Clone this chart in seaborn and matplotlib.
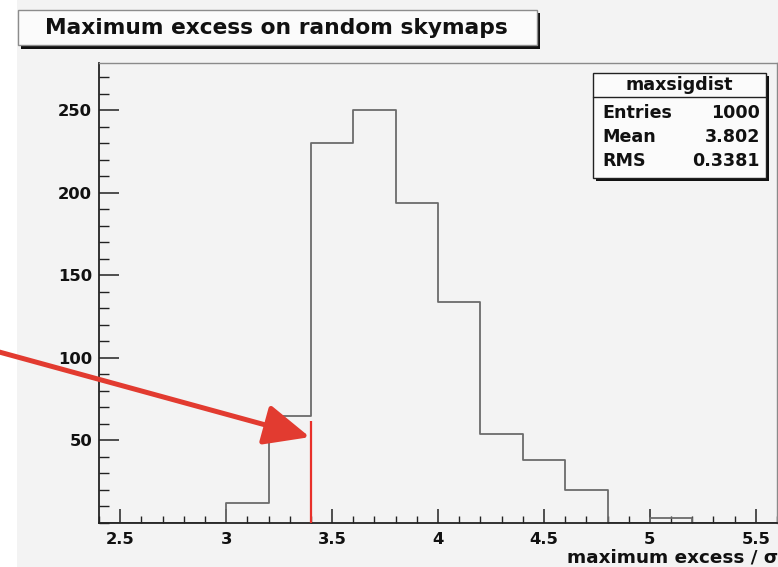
import numpy as np
import pandas as pd
import matplotlib
matplotlib.use("Agg")
import matplotlib.pyplot as plt
from matplotlib.patches import Rectangle
from matplotlib.lines import Line2D
from matplotlib.ticker import MultipleLocator
import seaborn as sns

# Histogram of the maximum excess found on random skymaps
bin_edges = [2.4, 2.6, 2.8, 3.0, 3.2, 3.4, 3.6, 3.8, 4.0, 4.2, 4.4, 4.6, 4.8, 5.0, 5.2, 5.4, 5.6]
bin_counts = [0, 0, 0, 12, 65, 230, 250, 194, 134, 54, 38, 20, 0, 3, 0, 0]
observed_excess = 3.4
observed_marker_height = 62

title_text = "Maximum excess on random skymaps"
stats_name = "maxsigdist"
stats_rows = [("Entries", "1000"), ("Mean", "3.802"), ("RMS", "0.3381")]
x_label = "maximum excess / \u03c3"
x_ticks = [2.5, 3, 3.5, 4, 4.5, 5, 5.5]
x_ticklabels = ["2.5", "3", "3.5", "4", "4.5", "5", "5.5"]
y_ticks = [50, 100, 150, 200, 250]

centers = [(a + b) / 2 for a, b in zip(bin_edges[:-1], bin_edges[1:])]
df = pd.DataFrame({"excess": centers, "count": bin_counts})

sns.set_theme(style="white")
plt.rcParams["font.family"] = ["DejaVu Sans"]

W, H = 778, 567
BG = "#f3f3f3"
fig = plt.figure(figsize=(W / 100, H / 100), dpi=100)
fig.patch.set_facecolor("white")


def fx(px):
    return px / W


def fy(py):
    return 1 - py / H


# canvas pad
fig.patches.append(Rectangle((fx(17), 0), 1 - fx(17), 1, transform=fig.transFigure,
                             facecolor=BG, edgecolor="none", zorder=-10))

ax = fig.add_axes([fx(99), fy(523), (777 - 99) / W, (523 - 63) / H])
ax.set_zorder(2)
ax.set_facecolor(BG)

sns.histplot(data=df, x="excess", weights="count", bins=bin_edges, element="step",
             fill=False, color="#6b6b6b", linewidth=1.3, ax=ax)

ax.vlines(observed_excess, 0, observed_marker_height, color="#e8302a", linewidth=1.6, zorder=5)

ax.set_xlim(2.4, 5.6)
ax.set_ylim(0, 278.5)
ax.set_xticks(x_ticks)
ax.set_xticklabels(x_ticklabels)
ax.set_yticks(y_ticks)
ax.xaxis.set_minor_locator(MultipleLocator(0.1))
ax.yaxis.set_minor_locator(MultipleLocator(10))
ax.tick_params(which="both", bottom=True, left=True, top=False, right=False)
ax.tick_params(axis="x", which="major", direction="in", length=10, width=1.1,
               color="#222222", pad=6.5, labelsize=11.8, labelcolor="#111111")
ax.tick_params(axis="x", which="minor", direction="in", length=5, width=1.0, color="#222222")
ax.tick_params(axis="y", which="major", direction="in", length=14.5, width=1.1,
               color="#222222", pad=5, labelsize=11.8, labelcolor="#111111")
ax.tick_params(axis="y", which="minor", direction="in", length=7.2, width=1.0, color="#222222")
for lab in ax.get_xticklabels() + ax.get_yticklabels():
    lab.set_fontweight("bold")
ax.set_xlabel("")
ax.set_ylabel("")

for side in ("left", "bottom"):
    ax.spines[side].set_color("#222222")
    ax.spines[side].set_linewidth(1.3)
for side in ("top", "right"):
    ax.spines[side].set_color("#8a8a8a")
    ax.spines[side].set_linewidth(1.0)

fig.text(fx(778), fy(558), x_label, ha="right", va="center", fontsize=13.2,
         fontweight="bold", color="#111111")

# title box with drop shadow
fig.patches.append(Rectangle((fx(21), fy(48.5)), fx(540) - fx(21), fy(13) - fy(48.5),
                             transform=fig.transFigure, facecolor="#111111",
                             edgecolor="none", zorder=3))
fig.patches.append(Rectangle((fx(17.5), fy(45)), fx(537) - fx(17.5), fy(10) - fy(45),
                             transform=fig.transFigure, facecolor="#fbfbfb",
                             edgecolor="#8c8c8c", linewidth=1.0, zorder=4))
fig.text(fx(276), fy(28.5), title_text, ha="center", va="center", fontsize=15.7,
         fontweight="bold", color="#111111", zorder=5)

# statistics box
fig.patches.append(Rectangle((fx(596), fy(181)), fx(769) - fx(596), fy(76) - fy(181),
                             transform=fig.transFigure, facecolor="#111111",
                             edgecolor="none", zorder=3))
fig.patches.append(Rectangle((fx(593), fy(177.5)), fx(765.5) - fx(593), fy(73) - fy(177.5),
                             transform=fig.transFigure, facecolor="#fbfbfb",
                             edgecolor="#222222", linewidth=1.0, zorder=4))
fig.lines.append(Line2D([fx(593), fx(765.5)], [fy(97), fy(97)], transform=fig.transFigure,
                        color="#222222", linewidth=1.0, zorder=5))
fig.text(fx(679), fy(85), stats_name, ha="center", va="center", fontsize=12.6,
         fontweight="bold", color="#111111", zorder=6)
for i, (name, val) in enumerate(stats_rows):
    yy = fy(112.5 + 24.5 * i)
    fig.text(fx(602), yy, name, ha="left", va="center", fontsize=12.6,
             fontweight="bold", color="#111111", zorder=6)
    fig.text(fx(760), yy, val, ha="right", va="center", fontsize=12.6,
             fontweight="bold", color="#111111", zorder=6)

# arrow pointing at the observed excess
ax.annotate("", xy=(3.395, 52), xycoords="data",
            xytext=(-30, H - 344), textcoords="figure pixels",
            arrowprops=dict(arrowstyle="-|>,head_length=28,head_width=12.5",
                            mutation_scale=1, color="#e23b30", linewidth=3.6,
                            shrinkA=0, shrinkB=0),
            annotation_clip=False, zorder=10)

fig.savefig("out.png", dpi=100, facecolor=fig.get_facecolor())
